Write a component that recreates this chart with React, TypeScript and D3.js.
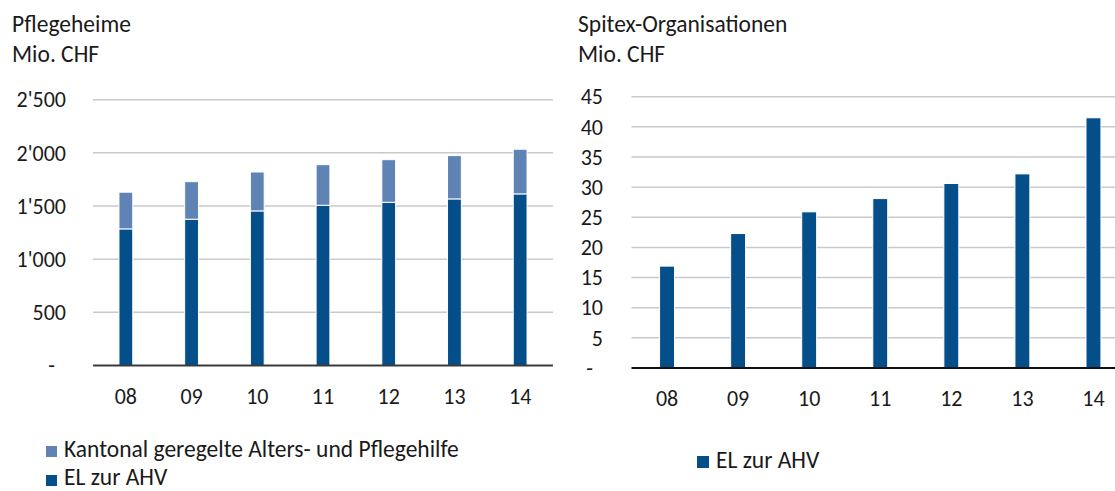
import React from 'react';
import * as d3 from 'd3';

// Pflegeheime, Mio. CHF
const years = ['08', '09', '10', '11', '12', '13', '14'];
const elAhvHeime = [1285, 1376, 1454, 1507, 1535, 1567, 1614];
const kantonalHeime = [345, 353, 366, 382, 401, 407, 420];

// Spitex-Organisationen, Mio. CHF
const elAhvSpitex = [16.9, 22.3, 25.9, 28.1, 30.6, 32.2, 41.5];

const leftTicks = [0, 500, 1000, 1500, 2000, 2500];
const rightTicks = [0, 5, 10, 15, 20, 25, 30, 35, 40, 45];

const DARK = '#044E89';
const LIGHT = '#5F83B5';
const FONT = 'Carlito, Calibri, Lato, sans-serif';

const fmtCH = (v: number) => (v === 0 ? '-' : d3.format(',')(v).replace(/,/g, "'"));

const App = () => {
  // left panel
  const lx = d3.scaleBand<string>().domain(years).range([93, 553]).paddingInner(0.79).paddingOuter(0.395);
  const ly = d3.scaleLinear().domain([0, 2500]).range([365.5, 99.7]);
  const stack = d3.stack<number>().keys(['el', 'kant']).value((i, k) => (k === 'el' ? elAhvHeime[i] : kantonalHeime[i]));
  const series = stack(d3.range(years.length));

  // right panel
  const rx = d3.scaleBand<string>().domain(years).range([631.5, 1129]).paddingInner(0.79).paddingOuter(0.395);
  const ry = d3.scaleLinear().domain([0, 45]).range([368, 96.7]);

  const txt = { fontFamily: FONT, fontSize: 23.5, fill: '#1a1a1a' } as const;
  const num = { fontFamily: FONT, fontSize: 22, fill: '#1a1a1a' } as const;

  return (
    <svg width={1115} height={491} style={{ position: 'absolute', left: 0, top: 0, background: '#fff' }}>
      {/* left titles */}
      <text x={12} y={32} {...txt}>Pflegeheime</text>
      <text x={12} y={62} {...txt}>Mio. CHF</text>

      {leftTicks.map(t => (
        <g key={'lg' + t}>
          {t > 0 && <line x1={93} x2={553} y1={ly(t)} y2={ly(t)} stroke="#c9c9c9" strokeWidth={1.5} />}
          <text x={t === 0 ? 55 : 66} y={ly(t)} dy="0.35em" textAnchor="end" {...num}>{fmtCH(t)}</text>
        </g>
      ))}

      {series.map((s, si) => (
        <g key={'ls' + si} fill={si === 0 ? DARK : LIGHT} stroke="#fff" strokeWidth={1}>
          {s.map((d, i) => (
            <rect key={i} x={lx(years[i])} width={lx.bandwidth()} y={ly(d[1])} height={ly(d[0]) - ly(d[1])} />
          ))}
        </g>
      ))}
      <line x1={93} x2={553} y1={ly(0)} y2={ly(0)} stroke="#3a3a3a" strokeWidth={2} />
      {years.map(y => (
        <text key={'lx' + y} x={lx(y)! + lx.bandwidth() / 2} y={404} textAnchor="middle" {...num}>{y}</text>
      ))}

      {/* left legend */}
      <rect x={46} y={446} width={11} height={11} fill={LIGHT} />
      <text x={64} y={457} {...txt}>Kantonal geregelte Alters- und Pflegehilfe</text>
      <rect x={46} y={475} width={11} height={11} fill={DARK} />
      <text x={64} y={485} {...txt}>EL zur AHV</text>

      {/* right titles */}
      <text x={578} y={32} {...txt}>Spitex-Organisationen</text>
      <text x={578} y={62} {...txt}>Mio. CHF</text>

      {rightTicks.map(t => (
        <g key={'rg' + t}>
          {t > 0 && <line x1={631.5} x2={1129} y1={ry(t)} y2={ry(t)} stroke="#c9c9c9" strokeWidth={1.5} />}
          <text x={t === 0 ? 593 : 603} y={ry(t)} dy="0.35em" textAnchor="end" {...num}>{fmtCH(t)}</text>
        </g>
      ))}
      <g fill={DARK} stroke="#fff" strokeWidth={1}>
        {elAhvSpitex.map((v, i) => (
          <rect key={i} x={rx(years[i])} width={rx.bandwidth()} y={ry(v)} height={ry(0) - ry(v)} />
        ))}
      </g>
      <line x1={631.5} x2={1129} y1={ry(0)} y2={ry(0)} stroke="#111" strokeWidth={2} />
      {years.map(y => (
        <text key={'rx' + y} x={rx(y)! + rx.bandwidth() / 2} y={406} textAnchor="middle" {...num}>{y}</text>
      ))}

      {/* right legend */}
      <rect x={697} y={456} width={12} height={12} fill={DARK} />
      <text x={716} y={468} {...txt}>EL zur AHV</text>
    </svg>
  );
};

export default App;
